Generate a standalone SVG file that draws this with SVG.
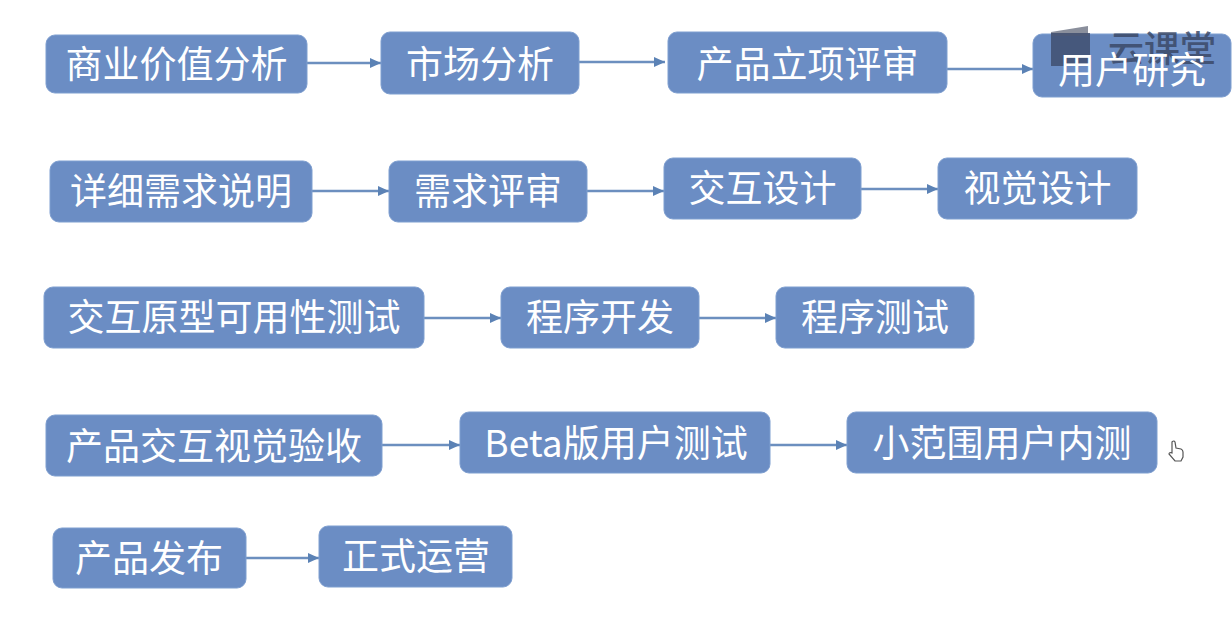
<svg xmlns="http://www.w3.org/2000/svg" width="1232" height="632" viewBox="0 0 1232 632">
<style>
.n{fill:#6b8dc4;stroke:#7f9fd0;stroke-width:1}
.t{font-family:"Noto Sans CJK SC","Noto Sans",sans-serif;font-size:37px;fill:#fff;text-anchor:middle;dominant-baseline:central}
.c line{stroke:#6c8fbf;stroke-width:2.4;marker-end:url(#a)}
</style>
<defs><marker id="a" markerUnits="userSpaceOnUse" markerWidth="12" markerHeight="12" refX="11" refY="6" orient="auto"><path d="M0 1L11 6L0 11z" fill="#5b82b5"/></marker></defs>
<rect width="1232" height="632" fill="#fff"/>
<g class="c">
<line x1="307" y1="63" x2="381" y2="63"/><line x1="579" y1="62" x2="665" y2="62"/><line x1="947" y1="69" x2="1033" y2="69"/>
<line x1="312" y1="191" x2="389" y2="191"/><line x1="587" y1="191" x2="664" y2="191"/><line x1="861" y1="189" x2="938" y2="189"/>
<line x1="424" y1="318" x2="501" y2="318"/><line x1="699" y1="318" x2="776" y2="318"/>
<line x1="382" y1="445" x2="460" y2="445"/><line x1="770" y1="445" x2="847" y2="445"/>
<line x1="246" y1="558" x2="319" y2="558"/>
</g>
<g id="n1"><rect class="n" x="46" y="35" width="261" height="58" rx="9"/><text class="t" x="176.500" y="62">商业价值分析</text></g>
<g id="n2"><rect class="n" x="381" y="32" width="198" height="62" rx="9"/><text class="t" x="480" y="62">市场分析</text></g>
<g id="n3"><rect class="n" x="668" y="32" width="279" height="61" rx="9"/><text class="t" x="807.500" y="62">产品立项评审</text></g>
<g id="n4"><rect class="n" x="1033" y="34" width="198" height="63" rx="9"/>
<g id="watermark">
<path d="M1051 32L1088 26V36H1051z" fill="#8a8f9c"/>
<path d="M1051 33H1090V66H1051z" fill="#3f4f70" opacity=".85"/>
<text x="1108" y="62" font-family="'Noto Sans CJK SC',sans-serif" font-size="36" font-weight="500" fill="#3b4a68" opacity=".85">云课堂</text>
</g>
<text class="t" x="1132" y="68">用户研究</text></g>
<g id="n5"><rect class="n" x="50" y="161" width="262" height="61" rx="9"/><text class="t" x="181" y="189">详细需求说明</text></g>
<g id="n6"><rect class="n" x="389" y="161" width="198" height="61" rx="9"/><text class="t" x="488" y="189">需求评审</text></g>
<g id="n7"><rect class="n" x="664" y="158" width="197" height="61" rx="9"/><text class="t" x="762.500" y="186">交互设计</text></g>
<g id="n8"><rect class="n" x="938" y="158" width="199" height="61" rx="9"/><text class="t" x="1037.500" y="186">视觉设计</text></g>
<g id="n9"><rect class="n" x="44" y="287" width="380" height="61" rx="9"/><text class="t" x="234" y="315">交互原型可用性测试</text></g>
<g id="n10"><rect class="n" x="501" y="287" width="198" height="61" rx="9"/><text class="t" x="600" y="315">程序开发</text></g>
<g id="n11"><rect class="n" x="776" y="287" width="198" height="61" rx="9"/><text class="t" x="875" y="315">程序测试</text></g>
<g id="n12"><rect class="n" x="46" y="415" width="336" height="61" rx="9"/><text class="t" x="214" y="444">产品交互视觉验收</text></g>
<g id="n13"><rect class="n" x="460" y="412" width="310" height="61" rx="9"/><text class="t" x="616" y="441">Beta版用户测试</text></g>
<g id="n14"><rect class="n" x="847" y="412" width="310" height="61" rx="9"/><text class="t" x="1002" y="441">小范围用户内测</text></g>
<g id="n15"><rect class="n" x="53" y="528" width="193" height="60" rx="9"/><text class="t" x="149" y="556">产品发布</text></g>
<g id="n16"><rect class="n" x="319" y="526" width="193" height="61" rx="9"/><text class="t" x="416" y="554">正式运营</text></g>
<path id="cursor" d="M1172 442q2-2 3 0l1 6 5 1q2 1 2 3v5l-2 4h-6l-6-7q0-2 3-1z" fill="#fff" stroke="#555" stroke-width="1.200"/>
</svg>
